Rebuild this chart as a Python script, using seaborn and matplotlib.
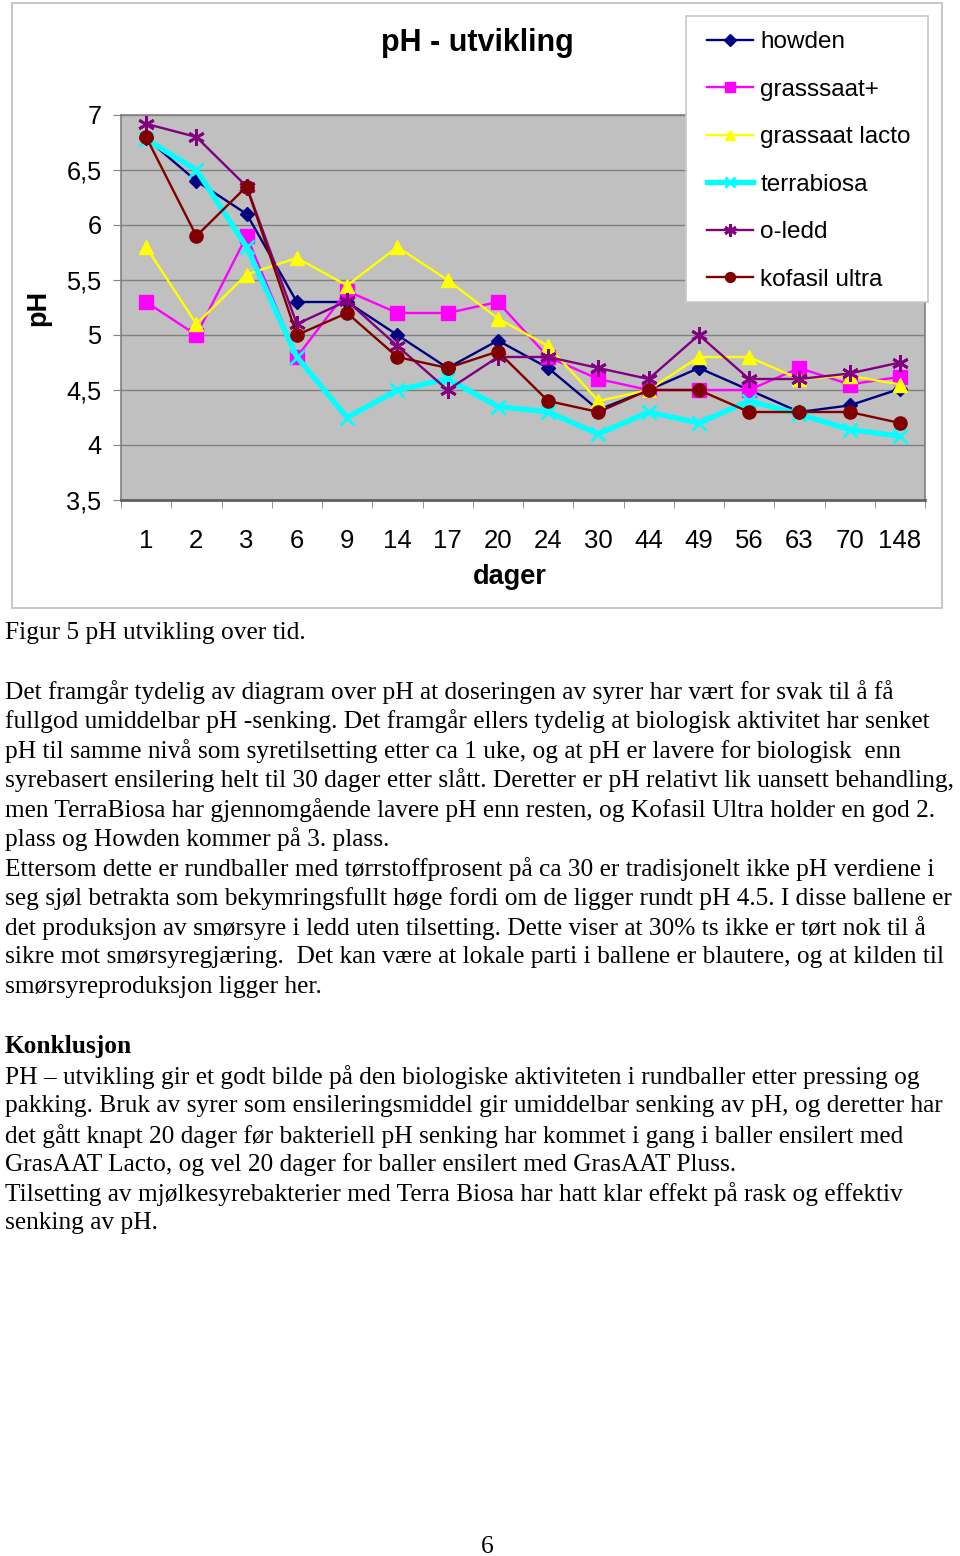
import numpy as np
import pandas as pd
import matplotlib
matplotlib.use("Agg")
import matplotlib.pyplot as plt
import seaborn as sns
from matplotlib.patches import Rectangle

# data
dager = ["1", "2", "3", "6", "9", "14", "17", "20", "24", "30", "44", "49", "56", "63", "70", "148"]
howden = [6.79, 6.40, 6.10, 5.30, 5.30, 5.00, 4.70, 4.95, 4.70, 4.32, 4.50, 4.70, 4.50, 4.30, 4.36, 4.51]
grasssaat_pluss = [5.30, 5.00, 5.90, 4.80, 5.40, 5.20, 5.20, 5.30, 4.80, 4.60, 4.50, 4.50, 4.50, 4.70, 4.55, 4.62]
grassaat_lacto = [5.80, 5.10, 5.55, 5.70, 5.45, 5.80, 5.50, 5.15, 4.90, 4.40, 4.50, 4.80, 4.80, 4.60, 4.63, 4.55]
terrabiosa = [6.78, 6.50, 5.80, 4.80, 4.25, 4.50, 4.60, 4.35, 4.30, 4.10, 4.30, 4.20, 4.40, 4.28, 4.14, 4.08]
o_ledd = [6.92, 6.80, 6.35, 5.10, 5.31, 4.90, 4.50, 4.80, 4.80, 4.70, 4.60, 5.00, 4.60, 4.60, 4.65, 4.75]
kofasil = [6.80, 5.90, 6.35, 5.00, 5.20, 4.80, 4.70, 4.85, 4.40, 4.30, 4.50, 4.50, 4.30, 4.30, 4.30, 4.20]

serie_navn = ["howden", "grasssaat+", "grassaat lacto", "terrabiosa", "o-ledd", "kofasil ultra"]
serie_verdier = [howden, grasssaat_pluss, grassaat_lacto, terrabiosa, o_ledd, kofasil]

# stil per serie: farge, markør, markørstørrelse, linjebredde
stil = {
    "howden": ("#000080", "D", 7.5, 1.7),
    "grasssaat+": ("#FF00FF", "s", 9.5, 1.7),
    "grassaat lacto": ("#FFFF00", "^", 10, 1.7),
    "terrabiosa": ("#00FFFF", "x", 10.5, 3.8),
    "o-ledd": ("#800080", (6, 2, 0), 12, 1.7),
    "kofasil ultra": ("#800000", "o", 9.5, 1.7),
}

rader = []
for navn, verdier in zip(serie_navn, serie_verdier):
    for i, (d, v) in enumerate(zip(dager, verdier)):
        rader.append({"serie": navn, "pos": i, "dag": d, "pH": v})
df = pd.DataFrame(rader)

tekst_linjer = [
    "Det framgår tydelig av diagram over pH at doseringen av syrer har vært for svak til å få",
    "fullgod umiddelbar pH -senking. Det framgår ellers tydelig at biologisk aktivitet har senket",
    "pH til samme nivå som syretilsetting etter ca 1 uke, og at pH er lavere for biologisk  enn",
    "syrebasert ensilering helt til 30 dager etter slått. Deretter er pH relativt lik uansett behandling,",
    "men TerraBiosa har gjennomgående lavere pH enn resten, og Kofasil Ultra holder en god 2.",
    "plass og Howden kommer på 3. plass.",
    "Ettersom dette er rundballer med tørrstoffprosent på ca 30 er tradisjonelt ikke pH verdiene i",
    "seg sjøl betrakta som bekymringsfullt høge fordi om de ligger rundt pH 4.5. I disse ballene er",
    "det produksjon av smørsyre i ledd uten tilsetting. Dette viser at 30% ts ikke er tørt nok til å",
    "sikre mot smørsyregjæring.  Det kan være at lokale parti i ballene er blautere, og at kilden til",
    "smørsyreproduksjon ligger her.",
]
konklusjon_linjer = [
    "PH – utvikling gir et godt bilde på den biologiske aktiviteten i rundballer etter pressing og",
    "pakking. Bruk av syrer som ensileringsmiddel gir umiddelbar senking av pH, og deretter har",
    "det gått knapt 20 dager før bakteriell pH senking har kommet i gang i baller ensilert med",
    "GrasAAT Lacto, og vel 20 dager for baller ensilert med GrasAAT Pluss.",
    "Tilsetting av mjølkesyrebakterier med Terra Biosa har hatt klar effekt på rask og effektiv",
    "senking av pH.",
]

W, H = 960, 1556
fig = plt.figure(figsize=(W / 100, H / 100), dpi=100)
fig.patch.set_facecolor("white")

def fx(px):
    return px / W

def fy(py):
    return 1 - py / H

# ramme rundt diagrammet
fig.patches.append(Rectangle((fx(12), fy(608)), fx(930), (608 - 3) / H,
                             transform=fig.transFigure, fill=False,
                             edgecolor="#BDBDBD", linewidth=1.2, zorder=-1))

ax = fig.add_axes([fx(121), fy(500), fx(925 - 121), (500 - 115) / H])
ax.set_facecolor("#C0C0C0")

for navn in serie_navn:
    farge, mark, ms, lw = stil[navn]
    sub = df[df["serie"] == navn]
    sns.lineplot(data=sub, x="pos", y="pH", ax=ax, color=farge, marker=mark,
                 markersize=ms, linewidth=lw, markeredgecolor=farge,
                 markeredgewidth=2 if mark in ("x", (6, 2, 0)) else 1,
                 label=navn, sort=False, errorbar=None)

ax.set_xlim(-0.5, len(dager) - 0.5)
ax.set_ylim(3.5, 7)
yt = np.arange(3.5, 7.01, 0.5)
ax.set_yticks(yt)
ax.set_yticklabels([("%g" % v).replace(".", ",") for v in yt],
                   fontsize=18.3, family="Liberation Sans")
ax.set_xticks(range(len(dager)))
ax.set_xticklabels(dager, fontsize=18.5, family="Liberation Sans")
ax.set_xticks(np.arange(-0.5, len(dager), 1), minor=True)
ax.tick_params(axis="x", which="major", length=0, pad=21)
ax.tick_params(axis="x", which="minor", length=6, color="#808080")
ax.tick_params(axis="y", length=6, color="#808080", pad=8)
ax.grid(axis="y", color="#808080", linewidth=1)
ax.set_axisbelow(True)
for s in ax.spines.values():
    s.set_color("#808080")
    s.set_linewidth(1.2)
ax.spines["bottom"].set_color("#606060")
ax.spines["bottom"].set_linewidth(2)

ax.set_xlabel("dager", fontsize=19.5, fontweight="bold", family="Liberation Sans")
ax.xaxis.set_label_coords((510 - 121) / (925 - 121), -(564 - 500) / (500 - 115))
ax.set_ylabel("pH", fontsize=19.5, fontweight="bold", family="Liberation Sans")
ax.yaxis.set_label_coords(-(121 - 51) / (925 - 121), (500 - 308) / (500 - 115))

fig.text(fx(477), fy(43), "pH - utvikling", fontsize=22, fontweight="bold",
         family="Liberation Sans", ha="center", va="center")

# legend: hvit boks + figurlegende uten ramme
fig.patches.append(Rectangle((fx(686), fy(302)), fx(928 - 686), (302 - 16) / H,
                             transform=fig.transFigure, facecolor="white",
                             edgecolor="#C8C8C8", linewidth=1.2, zorder=2))
handles, labels = ax.get_legend_handles_labels()
ax.get_legend().remove()
leg = fig.legend(handles, labels, loc="upper left",
                 bbox_to_anchor=(fx(707), fy(31)),
                 bbox_transform=fig.transFigure, borderaxespad=0, borderpad=0,
                 prop={"family": "Liberation Sans", "size": 17.5},
                 handlelength=1.9, handletextpad=0.3, labelspacing=1.05,
                 frameon=False, markerscale=0.75)
leg.set_zorder(3)

# tekst under figuren
serif = "Liberation Serif"
fs = 18.3
fig.text(fx(5), fy(633), "Figur 5 pH utvikling over tid.", fontsize=fs,
         family=serif, va="center", ha="left")
y0 = 692
for i, linje in enumerate(tekst_linjer):
    fig.text(fx(5), fy(y0 + i * 29.5), linje, fontsize=fs, family=serif,
             va="center", ha="left")
fig.text(fx(5), fy(1046), "Konklusjon", fontsize=fs, family=serif,
         fontweight="bold", va="center", ha="left")
y1 = 1077
for i, linje in enumerate(konklusjon_linjer):
    fig.text(fx(5), fy(y1 + i * 29.3), linje, fontsize=fs, family=serif,
             va="center", ha="left")
fig.text(fx(487), fy(1547), "6", fontsize=fs, family=serif, va="center", ha="center")

fig.savefig("out.png", dpi=100)
